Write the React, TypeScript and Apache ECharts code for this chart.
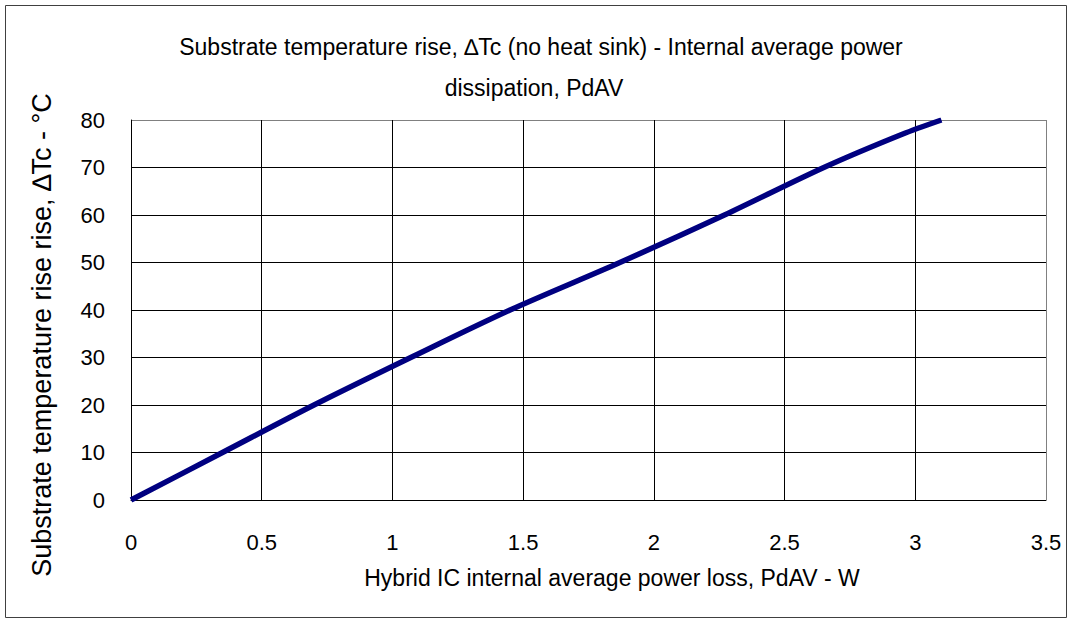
import React, { useEffect, useRef } from "react";
import * as echarts from "echarts";

const powerW = [0, 0.35, 0.7, 1.07, 1.45, 1.87, 2.27, 2.65, 2.95, 3.1];
const tempRise = [0, 10, 20, 30, 40, 50, 60, 70, 77, 80];
const titleLines = [
  "Substrate temperature rise, \u2206Tc (no heat sink) - Internal average power",
  "dissipation, PdAV",
];
const xName = "Hybrid IC internal average power loss, PdAV - W";
const yName = "Substrate temperature rise rise, \u2206Tc - \u00b0C";

const FONT = "Liberation Sans, Arial, sans-serif";

export default function App() {
  const ref = useRef<HTMLDivElement>(null);
  useEffect(() => {
    if (!ref.current) return;
    const chart = echarts.init(ref.current, null, { renderer: "svg" });
    const data = powerW.map((x, i) => [x, tempRise[i]]);
    const ySplitColors = Array.from({ length: 9 }, (_, i) => (i === 8 ? "#808080" : "#000000"));
    const xSplitColors = Array.from({ length: 8 }, (_, i) => (i === 7 ? "#808080" : "#000000"));
    chart.setOption({
      animation: false,
      backgroundColor: "#ffffff",
      grid: { left: 131, top: 120, right: 26, bottom: 119, containLabel: false },
      xAxis: {
        type: "value",
        min: 0,
        max: 3.5,
        interval: 0.5,
        axisLine: { show: true, lineStyle: { color: "#000", width: 1 } },
        axisTick: { show: false },
        axisLabel: { color: "#000", fontSize: 22, fontFamily: FONT, margin: 31 },
        splitLine: { show: true, lineStyle: { color: xSplitColors, width: 1 } },
      },
      yAxis: {
        type: "value",
        min: 0,
        max: 80,
        interval: 10,
        axisLine: { show: true, lineStyle: { color: "#000", width: 1 } },
        axisTick: { show: false },
        axisLabel: { color: "#000", fontSize: 22, fontFamily: FONT, margin: 26 },
        splitLine: { show: true, lineStyle: { color: ySplitColors, width: 1 } },
      },
      series: [
        {
          type: "line",
          data,
          smooth: 0.3,
          showSymbol: false,
          clip: true,
          lineStyle: { color: "#000080", width: 5.5 },
        },
      ],
      graphic: [
        {
          type: "rect",
          shape: { x: 5.5, y: 5.5, width: 1061, height: 612 },
          style: { fill: "none", stroke: "#404040", lineWidth: 1 },
          silent: true,
        },
        {
          type: "text",
          x: 541,
          y: 47,
          style: {
            text: titleLines[0],
            fontSize: 23,
            fontFamily: FONT,
            fill: "#000",
            align: "center",
            verticalAlign: "middle",
          },
        },
        {
          type: "text",
          x: 534,
          y: 88,
          style: {
            text: titleLines[1],
            fontSize: 23,
            fontFamily: FONT,
            fill: "#000",
            align: "center",
            verticalAlign: "middle",
          },
        },
        {
          type: "text",
          x: 612,
          y: 578,
          style: {
            text: xName,
            fontSize: 23,
            fontFamily: FONT,
            fill: "#000",
            align: "center",
            verticalAlign: "middle",
          },
        },
        {
          type: "text",
          x: 42,
          y: 335,
          rotation: Math.PI / 2,
          style: {
            text: yName,
            fontSize: 27,
            fontFamily: FONT,
            fill: "#000",
            align: "center",
            verticalAlign: "middle",
          },
        },
      ],
    });
    return () => chart.dispose();
  }, []);
  return (
    <div
      ref={ref}
      style={{ position: "fixed", left: 0, top: 0, width: 1072, height: 619 }}
    />
  );
}
